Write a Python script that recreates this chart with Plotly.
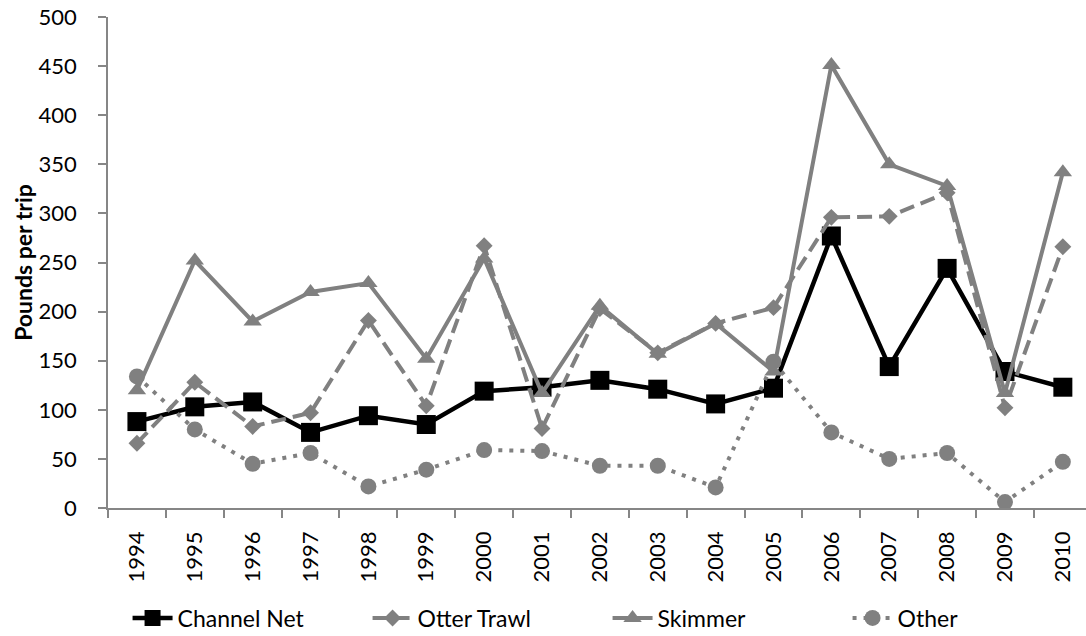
import plotly.graph_objects as go

# Years on the category axis
years = [str(y) for y in range(1994, 2011)]

# Pounds per trip by gear type
channel_net = [88, 103, 108, 77, 94, 85, 119, 123, 130, 121, 106, 122, 277, 144, 244, 139, 123]
otter_trawl = [66, 128, 83, 97, 191, 104, 267, 81, 203, 158, 188, 204, 296, 297, 321, 102, 266]
skimmer = [120, 252, 190, 220, 229, 152, 254, 117, 206, 157, 188, 139, 451, 350, 328, 117, 342]
other = [134, 80, 45, 56, 22, 39, 59, 58, 43, 43, 21, 149, 77, 50, 56, 6, 47]

GRAY = '#808080'
FONT = 'Lato, Calibri, sans-serif'

fig = go.Figure()

fig.add_trace(go.Scatter(
    x=years, y=channel_net, name='Channel Net', mode='lines+markers',
    line=dict(color='black', width=4.5),
    marker=dict(symbol='square', size=19, color='black')))

fig.add_trace(go.Scatter(
    x=years, y=otter_trawl, name='Otter Trawl', mode='lines+markers',
    line=dict(color=GRAY, width=4, dash='15px,7px'),
    marker=dict(symbol='diamond', size=13, color=GRAY)))

fig.add_trace(go.Scatter(
    x=years, y=skimmer, name='Skimmer', mode='lines+markers',
    line=dict(color=GRAY, width=4),
    marker=dict(symbol='triangle-up', size=16, color=GRAY)))

fig.add_trace(go.Scatter(
    x=years, y=other, name='Other', mode='lines+markers',
    line=dict(color=GRAY, width=4, dash='4px,7px'),
    marker=dict(symbol='circle', size=16, color=GRAY)))

fig.update_layout(
    width=1086, height=636,
    margin=dict(l=108, r=0, t=17, b=128, autoexpand=False),
    paper_bgcolor='white', plot_bgcolor='white',
    font=dict(family=FONT, size=22, color='black'),
    showlegend=True,
    legend=dict(orientation='h', x=0.02, xanchor='left', y=-0.224, yanchor='middle',
                font=dict(size=23), itemwidth=40, entrywidth=185,
                traceorder='normal'),
)

fig.update_xaxes(
    type='category', range=[-0.5, 16.4],
    showline=True, linecolor='#868686', linewidth=1.5,
    ticks='outside', ticklen=8, tickcolor='#868686', tickwidth=1.5,
    tickson='boundaries', tickangle=-90, showgrid=False,
    ticklabelstandoff=13, automargin=False,
)

fig.update_yaxes(
    range=[0, 500], dtick=50,
    showline=True, linecolor='#868686', linewidth=1.5,
    ticks='outside', ticklen=8, tickcolor='#868686', tickwidth=1.5,
    showgrid=False, zeroline=False, ticklabelstandoff=17, automargin=False,
    title=dict(text='<b>Pounds per trip</b>', font=dict(size=23), standoff=0),
)

# drop the default body margin so the figure fills the window exactly
fig.write_html('out.html', config={'displayModeBar': False},
               post_script="document.body.style.margin='0';")
